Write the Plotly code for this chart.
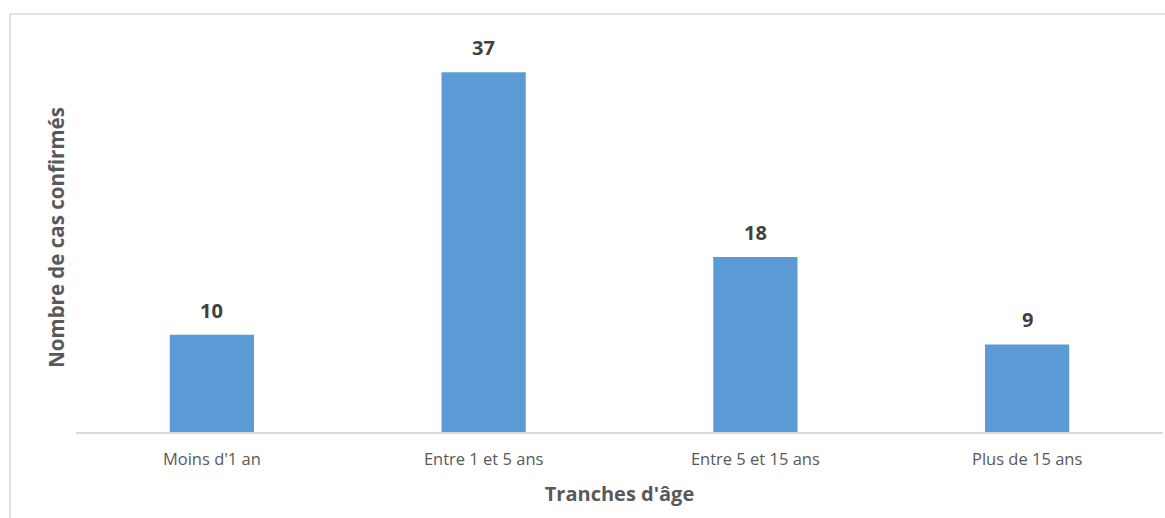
import plotly.graph_objects as go

categories = ["Moins d'1 an", "Entre 1 et 5 ans", "Entre 5 et 15 ans", "Plus de 15 ans"]
values = [10, 37, 18, 9]
labels = [str(v) for v in values]

FONT = "Open Sans"

fig = go.Figure(go.Bar(
    x=categories, y=values,
    marker=dict(color="#5B9BD5", line=dict(width=0)),
    width=0.31, hoverinfo="x+y",
))

annotations = [
    dict(x=c, y=v, text=t, xref="x", yref="y", showarrow=False,
         yanchor="bottom", yshift=9,
         font=dict(family=FONT, size=20, color="#404040", weight="bold"))
    for c, v, t in zip(categories, values, labels)
]

fig.update_layout(
    width=1165, height=518,
    margin=dict(l=76, r=2, t=43, b=86),
    paper_bgcolor="white", plot_bgcolor="white",
    showlegend=False,
    font=dict(family=FONT),
    annotations=annotations,
    xaxis=dict(
        showline=True, linecolor="#d9d9d9", linewidth=1.5, ticks="",
        tickfont=dict(family=FONT, size=16.5, color="#595959"),
        ticklabelstandoff=11,
        title=dict(text="Tranches d'âge", font=dict(family=FONT, size=20, color="#595959", weight="bold"), standoff=18),
        showgrid=False, zeroline=False,
    ),
    yaxis=dict(
        range=[0, 40], showticklabels=False, showgrid=False, zeroline=False, ticks="",
        title=dict(text="Nombre de cas confirmés", font=dict(family=FONT, size=20.5, color="#595959", weight="bold"), standoff=4),
    ),
    shapes=[dict(type="rect", xref="paper", yref="paper",
                 x0=-0.0607, x1=1.02, y0=-0.4, y1=1.0746,
                 line=dict(color="#d9d9d9", width=1.5), fillcolor="rgba(0,0,0,0)", layer="below")],
)

fig.write_html("out.html", config={"displayModeBar": False},
               post_script="document.body.style.margin='0';document.body.style.overflow='hidden';")
